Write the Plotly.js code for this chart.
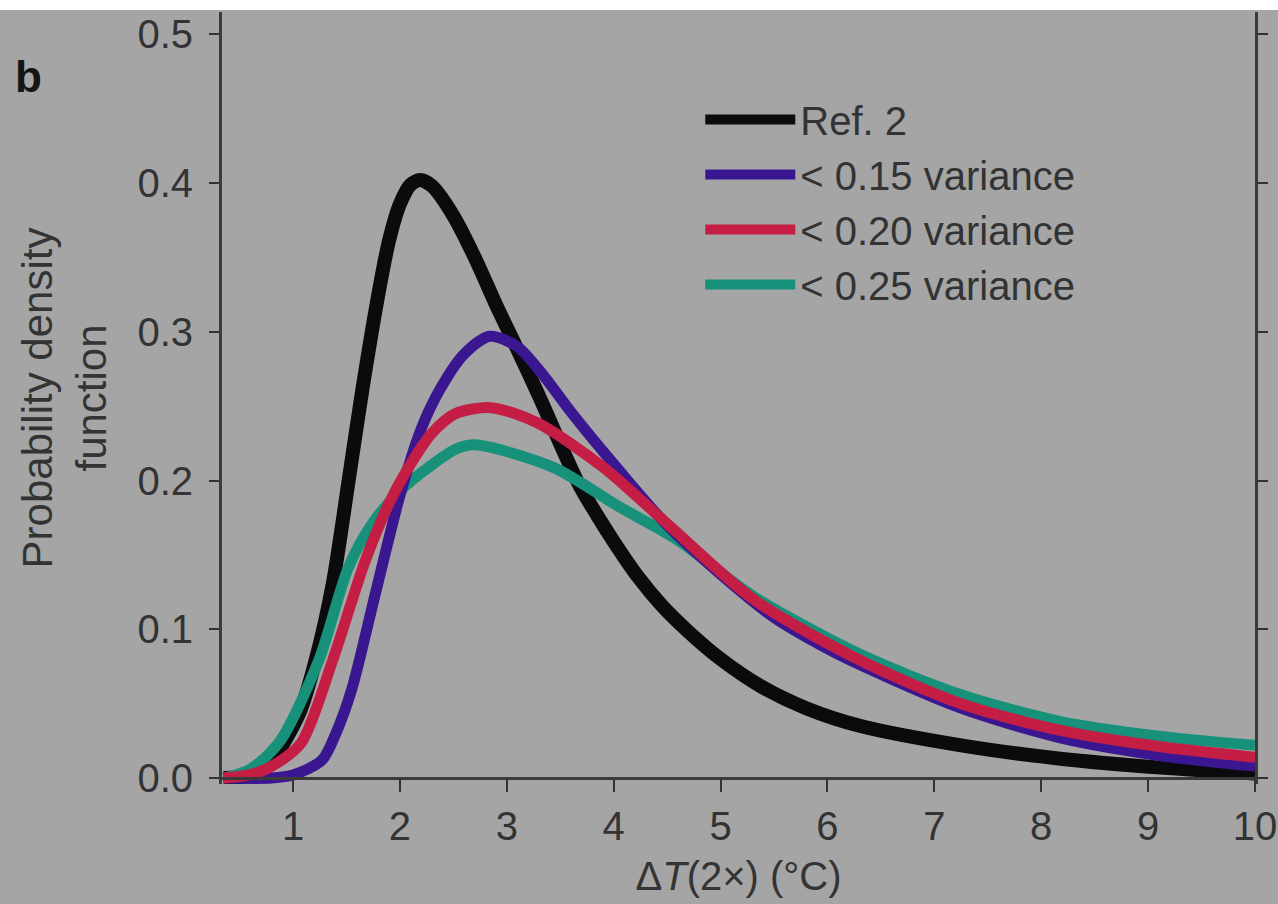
<!DOCTYPE html>
<html>
<head>
<meta charset="utf-8">
<script src="https://cdn.plot.ly/plotly-3.0.1.min.js"></script>
<style>
  html, body { margin: 0; padding: 0; background: #ffffff; }
  #chart { position: absolute; left: 0; top: 10px; width: 1278px; height: 894px; }
</style>
</head>
<body>
<div id="chart"></div>
<script>
// ---- Data ----
const seriesNames = ["Ref. 2", "< 0.15 variance", "< 0.20 variance", "< 0.25 variance"];

const xRef2 = [0.35, 0.6, 0.8, 1.06, 1.21, 1.37, 1.52, 1.65, 1.81, 1.9, 2.0, 2.1, 2.19, 2.3, 2.5, 2.7, 2.9, 3.1, 3.3, 3.67, 3.85, 4.0, 4.22, 4.45, 4.69, 5.0, 5.37, 5.8, 6.31, 7.25, 8.18, 9.12, 10];
const yRef2 = [0, 0.002, 0.012, 0.044, 0.079, 0.13, 0.2, 0.262, 0.33, 0.362, 0.386, 0.399, 0.402, 0.398, 0.378, 0.35, 0.318, 0.288, 0.257, 0.198, 0.176, 0.159, 0.136, 0.116, 0.099, 0.08, 0.062, 0.047, 0.035, 0.022, 0.013, 0.007, 0.003];

const xVar15 = [0.35, 0.8, 1.0, 1.27, 1.4, 1.55, 1.77, 2.0, 2.2, 2.38, 2.6, 2.84, 3.1, 3.35, 3.59, 4.06, 4.5, 5.0, 5.5, 6.0, 6.31, 7.25, 8.18, 9.12, 10];
const yVar15 = [0, 0, 0.002, 0.012, 0.03, 0.06, 0.124, 0.19, 0.235, 0.262, 0.285, 0.297, 0.29, 0.27, 0.247, 0.206, 0.17, 0.137, 0.108, 0.087, 0.076, 0.047, 0.027, 0.015, 0.008];

const xVar20 = [0.35, 0.64, 0.85, 1.08, 1.37, 1.67, 1.9, 2.09, 2.3, 2.52, 2.85, 3.28, 3.9, 4.53, 5.31, 6.31, 7.25, 8.18, 9.12, 10];
const yVar20 = [0, 0.003, 0.01, 0.024, 0.079, 0.145, 0.185, 0.21, 0.232, 0.245, 0.249, 0.239, 0.209, 0.169, 0.12, 0.079, 0.05, 0.032, 0.021, 0.014];

const xVar25 = [0.35, 0.6, 0.87, 1.24, 1.52, 1.75, 2.0, 2.27, 2.52, 2.7, 3.43, 4.06, 4.6, 5.31, 6.31, 7.25, 8.18, 9.12, 10];
const yVar25 = [0, 0.006, 0.024, 0.079, 0.142, 0.172, 0.193, 0.209, 0.221, 0.224, 0.209, 0.182, 0.16, 0.122, 0.083, 0.056, 0.038, 0.028, 0.022];

const xTickVals = [1, 2, 3, 4, 5, 6, 7, 8, 9, 10];
const yTickVals = [0, 0.1, 0.2, 0.3, 0.4, 0.5];
const yTickText = ["0.0", "0.1", "0.2", "0.3", "0.4", "0.5"];

// ---- Styling ----
const bg = "#a5a5a6";
const ink = "#333333";
const fontFam = "Liberation Sans, Arial, Helvetica, sans-serif";

function trace(x, y, name, color, width, rank) {
  return {
    x: x, y: y, name: name, type: "scatter", mode: "lines",
    line: { color: color, width: width, shape: "spline", smoothing: 0.8 },
    legendrank: rank, hoverinfo: "x+y+name"
  };
}

const data = [
  trace(xRef2, yRef2, seriesNames[0], "#0b0b0e", 14, 1),
  trace(xVar25, yVar25, seriesNames[3], "#17917a", 11, 4),
  trace(xVar15, yVar15, seriesNames[1], "#3a1791", 11, 2),
  trace(xVar20, yVar20, seriesNames[2], "#c41e45", 11, 3)
];

const xRange = [0.335, 10];
const layout = {
  width: 1278, height: 894,
  paper_bgcolor: bg, plot_bgcolor: bg,
  margin: { l: 222, r: 23, t: 2, b: 120 },
  font: { family: fontFam, color: ink, size: 40 },
  showlegend: true,
  legend: {
    x: 0.463, y: 0.903, xanchor: "left", yanchor: "top",
    bgcolor: "rgba(0,0,0,0)", borderwidth: 0,
    font: { family: fontFam, size: 40, color: ink },
    itemwidth: 90, traceorder: "normal"
  },
  xaxis: {
    range: xRange, anchor: "free", position: 0.0078,
    tickvals: xTickVals, ticks: "outside", ticklen: 12, tickwidth: 2, tickcolor: ink,
    showline: true, linecolor: "#3a3a3a", linewidth: 3,
    showgrid: false, zeroline: false, ticklabelstandoff: 0,
    tickfont: { family: fontFam, size: 40, color: ink },
    title: { text: "Δ<i>T</i>(2×) (°C)", font: { family: fontFam, size: 40, color: ink }, standoff: 15 }
  },
  xaxis2: {
    range: xRange, overlaying: "x", side: "top", anchor: "y",
    tickvals: xTickVals, ticks: "inside", ticklen: 20, tickwidth: 2, tickcolor: ink,
    showline: true, linecolor: "#3a3a3a", linewidth: 3,
    showticklabels: false, showgrid: false, zeroline: false
  },
  yaxis: {
    range: [-0.004, 0.515],
    tickvals: yTickVals, ticktext: yTickText,
    ticks: "outside", ticklen: 10, tickwidth: 2, tickcolor: ink,
    showline: true, linecolor: "#3a3a3a", linewidth: 3, mirror: "ticks",
    showgrid: false, zeroline: false, ticklabelstandoff: 8,
    tickfont: { family: fontFam, size: 40, color: ink },
    title: { text: "Probability density<br>function", font: { family: fontFam, size: 42, color: ink }, standoff: 18 }
  },
  annotations: [
    { text: "<b>b</b>", xref: "paper", yref: "paper", x: -0.187, y: 0.916,
      xanchor: "center", yanchor: "middle", showarrow: false,
      font: { family: fontFam, size: 44, color: "#151515" } }
  ]
};

Plotly.newPlot("chart", data, layout, { displayModeBar: false, responsive: false });
</script>
</body>
</html>
